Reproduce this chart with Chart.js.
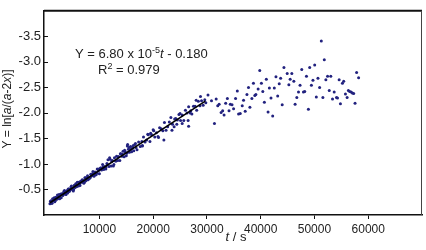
<!DOCTYPE html>
<html>
<head>
<meta charset="utf-8">
<script src="https://cdn.jsdelivr.net/npm/chart.js@4.4.0/dist/chart.umd.min.js"></script>
<style>
  html, body { margin: 0; padding: 0; background: #fff; }
</style>
</head>
<body>
<canvas id="myChart" width="426" height="250"></canvas>
<script>
// tick labels
const xTicks = [10000, 20000, 30000, 40000, 50000, 60000];
const yTicks = [-3.5, -3.0, -2.5, -2.0, -1.5, -1.0, -0.5];

// early points, tight around the fit
const tEarly = [800, 1000, 1200, 1400, 1600, 1800, 2000, 2200, 2400, 2600, 2800, 3000, 3200, 3400, 3600, 3800, 4000, 4200, 4400, 4600, 4800, 5000, 5200, 5400, 5600, 5800, 6000, 6200, 6400, 6600, 6800, 7000, 7200, 7400, 7600, 7800, 8000,
  900, 1100, 1300, 1500, 1700, 1900, 2100, 2300, 2500, 2700, 2900, 3100, 3300, 3500, 3700, 3900, 4100, 4300, 4500, 4700, 4900, 5100, 5300, 5500, 5700, 5900, 6100, 6300, 6500, 6700, 6900, 7100, 7300, 7500, 7700, 7900, 5150];
const yEarly = [-0.22, -0.28, -0.23, -0.29, -0.34, -0.28, -0.32, -0.39, -0.33, -0.32, -0.41, -0.40, -0.38, -0.46, -0.42, -0.40, -0.48, -0.51, -0.46, -0.50, -0.57, -0.51, -0.50, -0.58, -0.61, -0.56, -0.59, -0.64, -0.58, -0.65, -0.69, -0.65, -0.64, -0.73, -0.71, -0.77, -0.71,
  -0.27, -0.23, -0.32, -0.28, -0.26, -0.35, -0.31, -0.35, -0.40, -0.34, -0.34, -0.42, -0.40, -0.48, -0.41, -0.46, -0.43, -0.51, -0.48, -0.55, -0.51, -0.49, -0.58, -0.54, -0.59, -0.64, -0.57, -0.60, -0.66, -0.64, -0.68, -0.62, -0.73, -0.67, -0.73, -0.69, -0.47];

// middle points
const tMid = [8200, 8400, 8600, 8800, 9000, 9200, 9400, 9600, 9800, 10000, 10200, 10400, 10600, 10800, 11000, 11200, 11400, 11600, 11800, 12000, 12200, 12400, 12600, 12800, 13000, 13200, 13400, 13600, 13800, 14000, 14200, 14400, 14600, 14800, 15000, 15200, 15400, 15600, 15800, 16000, 16200, 16400, 16600, 16800, 17000,
  8300, 8700, 9100, 9500, 9900, 10300, 10700, 11100, 11500, 11900, 12300, 12700, 13100, 13500, 13900, 14300, 14700, 15100, 15500, 15900, 16300, 16700, 15250, 11240];
const yMid = [-0.72, -0.80, -0.77, -0.85, -0.76, -0.84, -0.79, -0.90, -0.86, -0.81, -0.92, -0.88, -0.99, -0.89, -0.95, -0.90, -1.01, -1.08, -0.95, -1.09, -0.96, -1.07, -0.96, -1.12, -1.06, -1.15, -1.07, -1.14, -1.07, -1.20, -1.15, -1.25, -1.14, -1.24, -1.16, -1.35, -1.29, -1.23, -1.34, -1.24, -1.32, -1.26, -1.38, -1.32, -1.28,
  -0.74, -0.81, -0.79, -0.82, -0.90, -0.92, -0.94, -0.92, -0.99, -1.12, -1.05, -0.99, -1.06, -1.14, -1.20, -1.19, -1.27, -1.21, -1.32, -1.29, -1.36, -1.40, -1.38, -0.94];

// end of linear part, wider spread
const tUpper = [17300, 17600, 17900, 18200, 18500, 18800, 19100, 19400, 19700, 20000, 20300, 20600, 20900, 21200, 21500, 21800, 22100, 22400, 22700, 23000, 23300, 23600, 23900, 24200, 24500, 24800, 25100, 25400, 25700, 26000, 26300, 26600, 26900, 27200, 27500, 27800, 28100, 28400, 28700, 29000, 29300, 29600,
  18000, 19000, 20100, 21000, 22000, 23500, 24000, 25000, 26500, 27000, 28000, 28800, 29800, 30200, 26600, 25400, 24400, 19540, 17990];
const yUpper = [-1.43, -1.34, -1.44, -1.53, -1.43, -1.47, -1.57, -1.44, -1.57, -1.67, -1.53, -1.61, -1.54, -1.71, -1.69, -1.65, -1.81, -1.66, -1.73, -1.82, -1.91, -1.78, -1.73, -1.89, -1.86, -1.97, -1.85, -1.96, -1.85, -2.05, -2.00, -2.12, -2.00, -1.98, -2.13, -2.13, -2.05, -2.23, -2.14, -2.24, -2.15, -2.26,
  -1.36, -1.58, -1.65, -1.52, -1.47, -1.66, -1.88, -1.99, -1.85, -2.04, -2.25, -2.32, -2.20, -2.35, -1.74, -1.79, -1.78, -1.60, -1.35];

// plateau, scattered
const tLate = [51270, 51830, 39830, 44320, 47640, 49110, 50040, 44930, 45790, 42840, 43710, 41050, 48510, 45480, 46160, 50650, 49720, 52440, 53040, 52120, 54590, 55440, 55200, 57840, 58210, 38650, 40130, 43450, 45240, 47320,
  49430, 50960, 37730, 39520, 41610, 42530, 35650, 39100, 38910, 37440, 40390, 47030, 47950, 48190, 52750, 53670, 55760, 56310, 56550, 56810, 57050, 57290, 56070, 54100, 54280, 53360, 51570, 50350, 46720, 43160,
  41920, 38360, 36810, 35330, 33800, 31720, 30850, 40680, 44000, 46400, 54830, 57550, 33490, 34350, 34670, 32270, 32010, 36570, 37990, 34960, 34110, 37120, 32930, 32640, 33190, 35890, 36200, 41370, 48870, 42230, 31400];
const yLate = [-3.41, -3.04, -2.83, -2.89, -2.85, -2.89, -2.94, -2.77, -2.77, -2.71, -2.68, -2.66, -2.72, -2.66, -2.62, -2.68, -2.64, -2.72, -2.72, -2.65, -2.65, -2.62, -2.58, -2.79, -2.69, -2.58, -2.58, -2.57, -2.55, -2.54,
  -2.54, -2.50, -2.50, -2.47, -2.49, -2.49, -2.43, -2.36, -2.34, -2.36, -2.42, -2.41, -2.41, -2.42, -2.44, -2.41, -2.37, -2.44, -2.42, -2.41, -2.39, -2.38, -2.30, -2.30, -2.29, -2.27, -2.30, -2.31, -2.30, -2.33,
  -2.29, -2.28, -2.25, -2.28, -2.28, -2.27, -2.24, -2.21, -2.16, -2.17, -2.18, -2.19, -2.19, -2.17, -2.16, -2.17, -2.14, -2.14, -2.11, -2.08, -2.04, -2.03, -2.04, -2.01, -1.96, -1.98, -1.99, -2.02, -2.07, -1.94, -1.79];

// fitted line end points
const tFit = [800, 29700];
const yFit = [-0.24, -2.23];

const toPoints = (ts, ys) => ts.map((t, i) => ({ x: t, y: ys[i] }));
const allPoints = [].concat(
    toPoints(tEarly, yEarly),
    toPoints(tMid, yMid),
    toPoints(tUpper, yUpper),
    toPoints(tLate, yLate)
);

const FONT = '"Liberation Sans", Arial, sans-serif';

// draws a row of text pieces with their own fonts
function drawRuns(ctx, x, y, runs, center) {
    let total = 0;
    runs.forEach(r => { ctx.font = r.font; total += ctx.measureText(r.text).width; });
    let cx = center ? x - total / 2 : x;
    runs.forEach(r => {
        ctx.font = r.font;
        ctx.fillText(r.text, cx, y + (r.dy || 0));
        cx += ctx.measureText(r.text).width;
    });
}

const framePlugin = {
    id: 'frame',
    afterDraw(chart) {
        const { ctx, chartArea: a } = chart;
        ctx.save();
        ctx.strokeStyle = '#111';
        ctx.lineWidth = 2;
        ctx.beginPath(); ctx.moveTo(a.left, a.top); ctx.lineTo(a.right, a.top); ctx.stroke();
        ctx.lineWidth = 1;
        ctx.strokeStyle = '#444';
        ctx.beginPath(); ctx.moveTo(a.right - 0.5, a.top); ctx.lineTo(a.right - 0.5, a.bottom); ctx.stroke();

        // y ticks point inwards
        const ys = chart.scales.y;
        ctx.strokeStyle = '#111';
        ctx.lineWidth = 1;
        yTicks.forEach(v => {
            const py = Math.round(ys.getPixelForValue(v)) + 0.5;
            ctx.beginPath(); ctx.moveTo(a.left, py); ctx.lineTo(a.left + 4, py); ctx.stroke();
        });

        ctx.fillStyle = '#222';
        ctx.textBaseline = 'alphabetic';
        const n = '13px ' + FONT, it = 'italic 13px ' + FONT, sup = '9px ' + FONT;
        drawRuns(ctx, 75, 58, [
            { text: 'Y = 6.80 x 10', font: n },
            { text: '-5', font: sup, dy: -5 },
            { text: 't', font: it },
            { text: ' - 0.180', font: n }
        ], false);
        drawRuns(ctx, 98, 74, [
            { text: 'R', font: n },
            { text: '2', font: sup, dy: -5 },
            { text: ' = 0.979', font: n }
        ], false);

        // x title
        drawRuns(ctx, 236, 241, [
            { text: 't', font: it },
            { text: ' / s', font: n }
        ], true);

        // y title
        ctx.translate(11, 109);
        ctx.rotate(-Math.PI / 2);
        const n12 = '12px ' + FONT, i12 = 'italic 12px ' + FONT;
        drawRuns(ctx, 0, 0, [
            { text: 'Y = ln[', font: n12 },
            { text: 'a', font: i12 },
            { text: '/(', font: n12 },
            { text: 'a', font: i12 },
            { text: '-2', font: n12 },
            { text: 'x', font: i12 },
            { text: ')]', font: n12 }
        ], true);
        ctx.restore();
    }
};

const ctx = document.getElementById('myChart');
new Chart(ctx, {
    type: 'scatter',
    data: {
        datasets: [
            {
                type: 'line',
                label: 'fit',
                data: toPoints(tFit, yFit),
                borderColor: '#000',
                borderWidth: 1.5,
                pointRadius: 0,
                fill: false
            },
            {
                label: 'Y',
                data: allPoints,
                backgroundColor: '#22227f',
                borderWidth: 0,
                pointRadius: 1.5
            }
        ]
    },
    options: {
        responsive: false,
        animation: false,
        layout: { padding: { top: 1, right: 1, left: 0, bottom: 0 } },
        plugins: {
            legend: { display: false },
            tooltip: { enabled: false }
        },
        scales: {
            x: {
                type: 'linear',
                min: -300,
                max: 70000,
                afterBuildTicks: (scale) => { scale.ticks = xTicks.map(v => ({ value: v })); },
                afterFit: (scale) => { scale.height = 35; },
                grid: { drawOnChartArea: false, drawTicks: true, tickLength: 4, color: '#111' },
                border: { display: true, color: '#111', width: 1.5 },
                ticks: {
                    color: '#222',
                    padding: 3,
                    maxRotation: 0,
                    font: { family: FONT, size: 12 },
                    callback: (v) => String(v)
                }
            },
            y: {
                type: 'linear',
                reverse: true,
                min: -4,
                max: 0,
                afterBuildTicks: (scale) => { scale.ticks = yTicks.map(v => ({ value: v })); },
                afterFit: (scale) => { scale.width = 44; },
                grid: { drawOnChartArea: false, drawTicks: false, color: '#111' },
                border: { display: true, color: '#111', width: 1.5 },
                ticks: {
                    color: '#222',
                    padding: 3,
                    font: { family: FONT, size: 13 },
                    callback: (v) => v.toFixed(1)
                }
            }
        }
    },
    plugins: [framePlugin]
});
</script>
</body>
</html>
